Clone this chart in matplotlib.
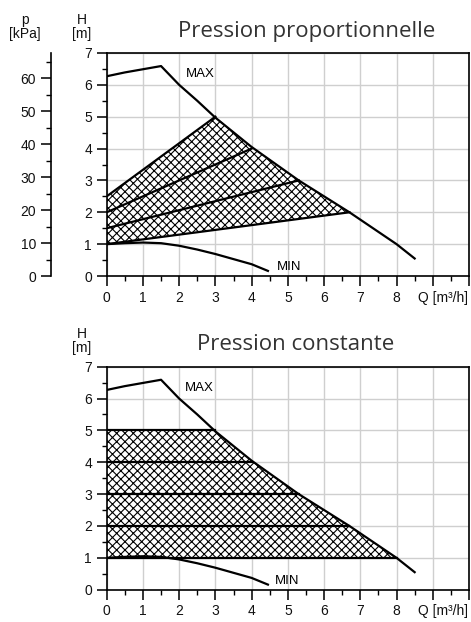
import matplotlib
matplotlib.use("Agg")
import matplotlib.pyplot as plt
from matplotlib.ticker import MultipleLocator

plt.rcParams["font.family"] = ["Liberation Sans", "DejaVu Sans"]
plt.rcParams["hatch.linewidth"] = 0.8

# ---------------- data ----------------
q_max = [0, 0.5, 1, 1.5, 2, 2.5, 3, 4, 5.3, 6.7, 8, 8.5]
h_max = [6.27, 6.39, 6.49, 6.59, 6.0, 5.5, 4.97, 4.05, 3.0, 2.0, 1.0, 0.55]

q_min = [0, 0.5, 1, 1.5, 2, 2.5, 3, 3.5, 4, 4.45]
h_min = [1.0, 1.03, 1.05, 1.03, 0.95, 0.83, 0.69, 0.53, 0.37, 0.16]

# proportional pressure: start head at Q=0, end on the MAX curve
prop_start_h = [1.0, 1.5, 2.0, 2.5]
prop_end_q = [6.7, 5.3, 4.0, 3.0]
prop_end_h = [2.0, 3.0, 4.0, 5.0]

# constant pressure: head, end on the MAX curve
const_h = [1, 2, 3, 4, 5]
const_end_q = [8.0, 6.7, 5.3, 4.0, 3.0]

x_ticks = list(range(0, 11))
x_labels = ["0", "1", "2", "3", "4", "5", "6", "7", "8", "", ""]
p_ticks = [0, 10, 20, 30, 40, 50, 60]

titles = ["Pression proportionnelle", "Pression constante"]

# ---------------- figure ----------------
W, H = 471, 622
fig = plt.figure(figsize=(W / 100, H / 100), dpi=100)

ax_left = 106.7 / W
ax_w = (469 - 106.7) / W
ax_h = 223 / H
tops = [53, 366.7]


def style_axes(ax):
    ax.set_xlim(0, 10)
    ax.set_ylim(0, 7)
    ax.xaxis.set_major_locator(MultipleLocator(1))
    ax.xaxis.set_minor_locator(MultipleLocator(0.5))
    ax.yaxis.set_major_locator(MultipleLocator(1))
    ax.yaxis.set_minor_locator(MultipleLocator(0.5))
    ax.set_xticks(x_ticks)
    ax.set_xticklabels(x_labels)
    ax.grid(True, which="major", color="#cfcfcf", lw=1.0)
    ax.set_axisbelow(True)
    ax.tick_params(which="major", direction="out", length=7.5, width=1.2,
                   labelsize=10, pad=3, colors="#111111")
    ax.tick_params(which="minor", direction="out", length=3.5, width=1.0)
    for s in ax.spines.values():
        s.set_linewidth(1.2)
    ax.annotate("Q [m³/h]", xy=(8.6, 0), xycoords=ax.get_xaxis_transform(),
                xytext=(0, -10.5), textcoords="offset points",
                ha="left", va="top", fontsize=10, color="#111111")


def draw_curves(ax):
    ax.plot(q_max, h_max, color="black", lw=1.6, zorder=4)
    ax.plot(q_min, h_min, color="black", lw=1.6, zorder=4)


def max_between(q0, q1):
    # MAX-curve points strictly between q0 and q1, descending in Q
    pts = [(q, h) for q, h in zip(q_max, h_max) if q0 < q < q1]
    return pts[::-1]


# ---------- top: proportional ----------
top = tops[0]
ax1 = fig.add_axes([ax_left, 1 - (top + 223) / H, ax_w, ax_h])
style_axes(ax1)

poly = [(0, prop_start_h[0]), (prop_end_q[0], prop_end_h[0])]
poly += max_between(prop_end_q[-1], prop_end_q[0])
poly += [(prop_end_q[-1], prop_end_h[-1]), (0, prop_start_h[-1])]
ax1.fill([p[0] for p in poly], [p[1] for p in poly], facecolor="white",
         edgecolor="black", hatch="xxxx", lw=0, zorder=2)
for h0, qe, he in zip(prop_start_h, prop_end_q, prop_end_h):
    ax1.plot([0, qe], [h0, he], color="black", lw=1.6, zorder=4)
draw_curves(ax1)
ax1.text(2.19, 6.33, "MAX", fontsize=9.5, va="center", ha="left", zorder=5)
ax1.text(4.69, 0.29, "MIN", fontsize=9.5, va="center", ha="left", zorder=5)

# pressure axis
ax_p = fig.add_axes([50.7 / W, 1 - (top + 223) / H, 0.0001, ax_h])
ax_p.set_ylim(0, 67.6)
ax_p.set_yticks(p_ticks)
ax_p.yaxis.set_minor_locator(MultipleLocator(5))
ax_p.xaxis.set_visible(False)
for side in ["right", "top", "bottom"]:
    ax_p.spines[side].set_visible(False)
ax_p.spines["left"].set_linewidth(1.2)
ax_p.patch.set_visible(False)
ax_p.tick_params(which="major", direction="out", length=7.5, width=1.2,
                 labelsize=10, pad=3, colors="#111111")
ax_p.tick_params(which="minor", direction="out", length=3.5, width=1.0)

fig.text(25 / W, 1 - 13 / H, "p\n[kPa]", ha="center", va="top",
         fontsize=10, linespacing=1.0, color="#111111")

# ---------- bottom: constant ----------
top = tops[1]
ax2 = fig.add_axes([ax_left, 1 - (top + 223) / H, ax_w, ax_h])
style_axes(ax2)

poly = [(0, const_h[0]), (const_end_q[0], const_h[0])]
poly += max_between(const_end_q[-1], const_end_q[0])
poly += [(const_end_q[-1], const_h[-1]), (0, const_h[-1])]
ax2.fill([p[0] for p in poly], [p[1] for p in poly], facecolor="white",
         edgecolor="black", hatch="xxxx", lw=0, zorder=2)
for h0, qe in zip(const_h, const_end_q):
    ax2.plot([0, qe], [h0, h0], color="black", lw=1.6, zorder=4)
draw_curves(ax2)
ax2.text(2.17, 6.32, "MAX", fontsize=9.5, va="center", ha="left", zorder=5)
ax2.text(4.65, 0.26, "MIN", fontsize=9.5, va="center", ha="left", zorder=5)

# H labels and titles
for t, title, tx in zip(tops, titles, [307, 296]):
    fig.text(82 / W, 1 - (t - 40) / H, "H\n[m]", ha="center", va="top",
             fontsize=10, linespacing=1.0, color="#111111")
    fig.text(tx / W, 1 - (t - 16.3) / H, title, ha="center", va="baseline",
             fontsize=16, family=["Open Sans", "DejaVu Sans"], color="#333333")

fig.savefig("out.png", dpi=100)
